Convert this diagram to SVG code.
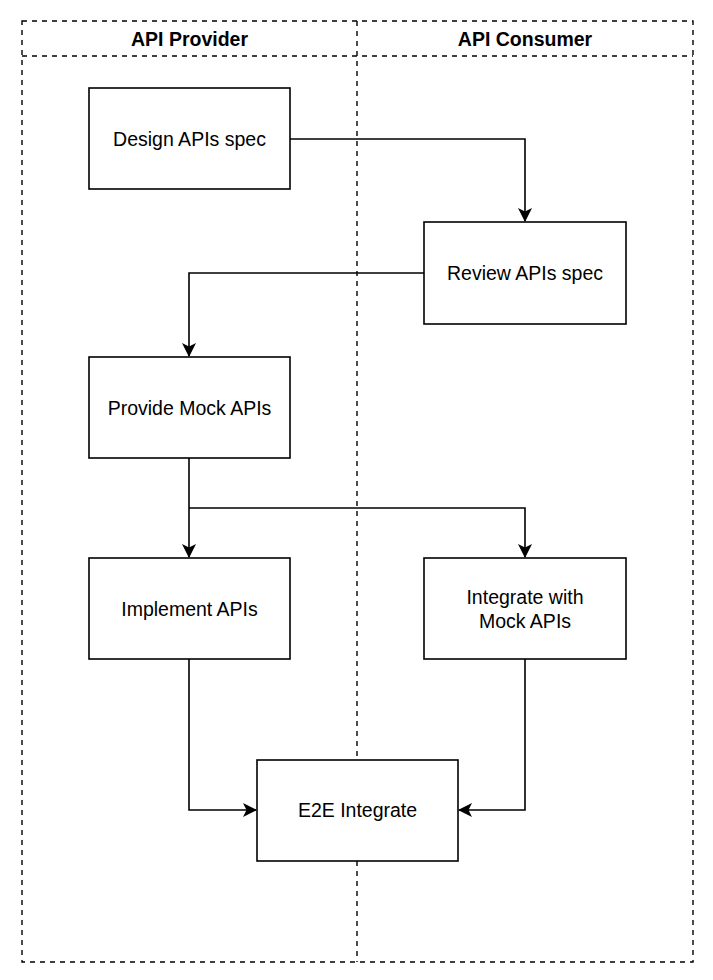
<svg xmlns="http://www.w3.org/2000/svg" width="713" height="980" viewBox="0 0 713 980">
<style>
.lane{fill:none;stroke:#000;stroke-width:1.4;stroke-dasharray:5,5}
.box{fill:#fff;stroke:#000;stroke-width:1.6}
.lbl{font-family:"Liberation Sans",Arial,sans-serif;font-size:19.5px;fill:#000;text-anchor:middle;dominant-baseline:central}
.hdr{font-family:"Liberation Sans",Arial,sans-serif;font-size:19.5px;font-weight:bold;fill:#000;text-anchor:middle;dominant-baseline:central}
.edge{fill:none;stroke:#000;stroke-width:1.6}
</style>
<defs>
<marker id="arr" viewBox="0 0 14 14" refX="13" refY="7" markerWidth="14" markerHeight="14" markerUnits="userSpaceOnUse" orient="auto">
<path d="M0,0 L14,7 L0,14 L3.5,7 Z" fill="#000"/>
</marker>
</defs>
<rect width="713" height="980" fill="#fff"/>
<g id="pool">
<rect class="lane" x="22" y="21" width="671" height="941"/>
<line class="lane" x1="22" y1="56" x2="693" y2="56"/>
<line class="lane" x1="357" y1="21" x2="357" y2="962"/>
<text class="hdr" x="189.5" y="39">API Provider</text>
<text class="hdr" x="525" y="39">API Consumer</text>
</g>
<g id="connectors">
<path class="edge" d="M290,139 H525 V221" marker-end="url(#arr)"/>
<path class="edge" d="M424,273 H189 V356" marker-end="url(#arr)"/>
<path class="edge" d="M189,458 V557" marker-end="url(#arr)"/>
<path class="edge" d="M189,508 H525 V557" marker-end="url(#arr)"/>
<path class="edge" d="M189,659 V810 H256" marker-end="url(#arr)"/>
<path class="edge" d="M525,659 V810 H459" marker-end="url(#arr)"/>
</g>
<g id="design"><rect class="box" x="89" y="88" width="201" height="101"/><text class="lbl" x="189.5" y="139">Design APIs spec</text></g>
<g id="review"><rect class="box" x="424" y="222" width="202" height="102"/><text class="lbl" x="525" y="273">Review APIs spec</text></g>
<g id="provide"><rect class="box" x="89" y="357" width="201" height="101"/><text class="lbl" x="189.5" y="408">Provide Mock APIs</text></g>
<g id="implement"><rect class="box" x="89" y="558" width="201" height="101"/><text class="lbl" x="189.5" y="609">Implement APIs</text></g>
<g id="integrate"><rect class="box" x="424" y="558" width="202" height="101"/><text class="lbl" x="525" y="597">Integrate with</text><text class="lbl" x="525" y="621">Mock APIs</text></g>
<g id="e2e"><rect class="box" x="257" y="760" width="201" height="101"/><text class="lbl" x="357.5" y="810">E2E Integrate</text></g>
</svg>
